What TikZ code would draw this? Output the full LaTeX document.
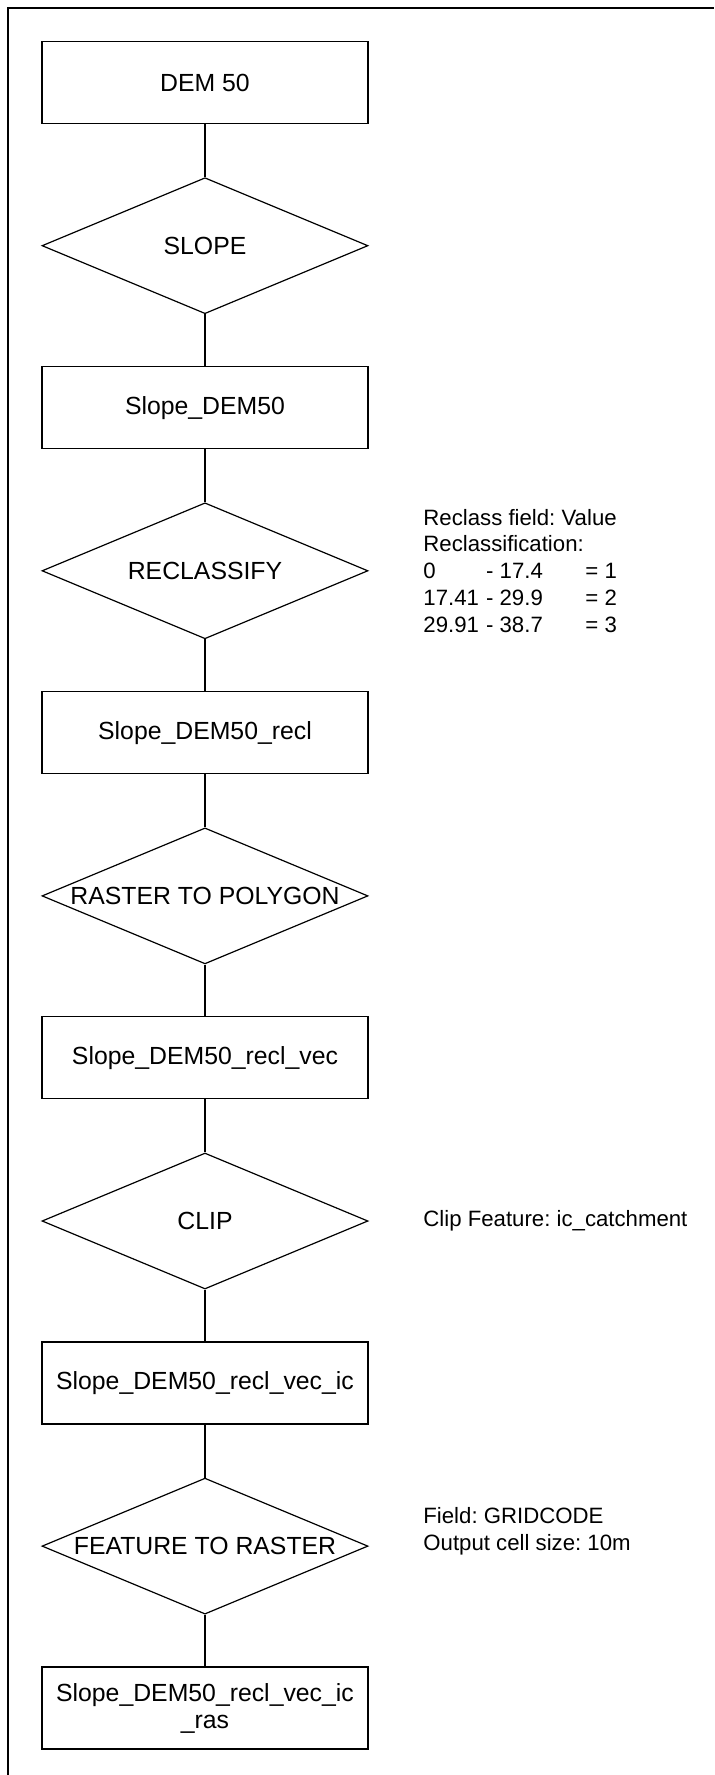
\documentclass[tikz,border=0pt]{standalone}
\usepackage{fontspec}
\setmainfont{Liberation Sans}
\usetikzlibrary{shapes.geometric}
\frenchspacing
\begin{document}
\begin{tikzpicture}[x=0.5pt,y=-0.5pt,
  stepbox/.style={draw, line width=0.6pt, minimum width=163pt, minimum height=41pt,
    inner sep=0pt, align=center, font=\fontsize{12.4}{13.5}\selectfont},
  opbox/.style={draw, diamond, line width=0.6pt, minimum width=163pt, minimum height=68pt,
    inner sep=0pt, font=\fontsize{12.4}{13.5}\selectfont},
  note/.style={anchor=west, inner sep=0pt, align=left, font=\fontsize{11.1}{13.4}\selectfont},
  link/.style={line width=0.6pt}]
\useasboundingbox (0,0) rectangle (714,1775);
% frame (top and left edges)
\draw[line width=1pt] (8,1775) -- (8,7.7) -- (714,7.7);

% data sets
\node[stepbox] (dem)   at (205,82.5)   {DEM 50};
\node[stepbox] (sdem)  at (205,407.6)  {Slope\_DEM50};
\node[stepbox] (srecl) at (205,732.7)  {Slope\_DEM50\_recl};
\node[stepbox] (svec)  at (205,1057.8) {Slope\_DEM50\_recl\_vec};
\node[stepbox] (sic)   at (205,1382.9) {Slope\_DEM50\_recl\_vec\_ic};
\node[stepbox] (sras)  at (205,1708.0) {Slope\_DEM50\_recl\_vec\_ic\\\_ras};

% tools
\node[opbox] (slope)   at (205,245.7)  {\makebox[0pt]{SLOPE}};
\node[opbox] (reclass) at (205,570.8)  {\makebox[0pt]{RECLASSIFY}};
\node[opbox] (r2p)     at (205,895.9)  {\makebox[0pt]{RASTER TO POLYGON}};
\node[opbox] (clip)    at (205,1221.0) {\makebox[0pt]{CLIP}};
\node[opbox] (f2r)     at (205,1546.1) {\makebox[0pt]{FEATURE TO RASTER}};

% flow
\draw[link] (dem) -- (slope);
\draw[link] (slope) -- (sdem);
\draw[link] (sdem) -- (reclass);
\draw[link] (reclass) -- (srecl);
\draw[link] (srecl) -- (r2p);
\draw[link] (r2p) -- (svec);
\draw[link] (svec) -- (clip);
\draw[link] (clip) -- (sic);
\draw[link] (sic) -- (f2r);
\draw[link] (f2r) -- (sras);

% tool parameters
\node[note] (reclassnote) at (423,570.8) {Reclass field: Value\\Reclassification:\\
  \makebox[31.35pt][l]{0}\makebox[49.65pt][l]{- 17.4}= 1\\
  \makebox[31.35pt][l]{17.41}\makebox[49.65pt][l]{- 29.9}= 2\\
  \makebox[31.35pt][l]{29.91}\makebox[49.65pt][l]{- 38.7}= 3};
\node[note] (clipnote) at (423,1221.0) {Clip Feature: ic\_catchment};
\node[note] (f2rnote) at (423,1531.5) {Field: GRIDCODE\\Output cell size: 10m};
\end{tikzpicture}
\end{document}
